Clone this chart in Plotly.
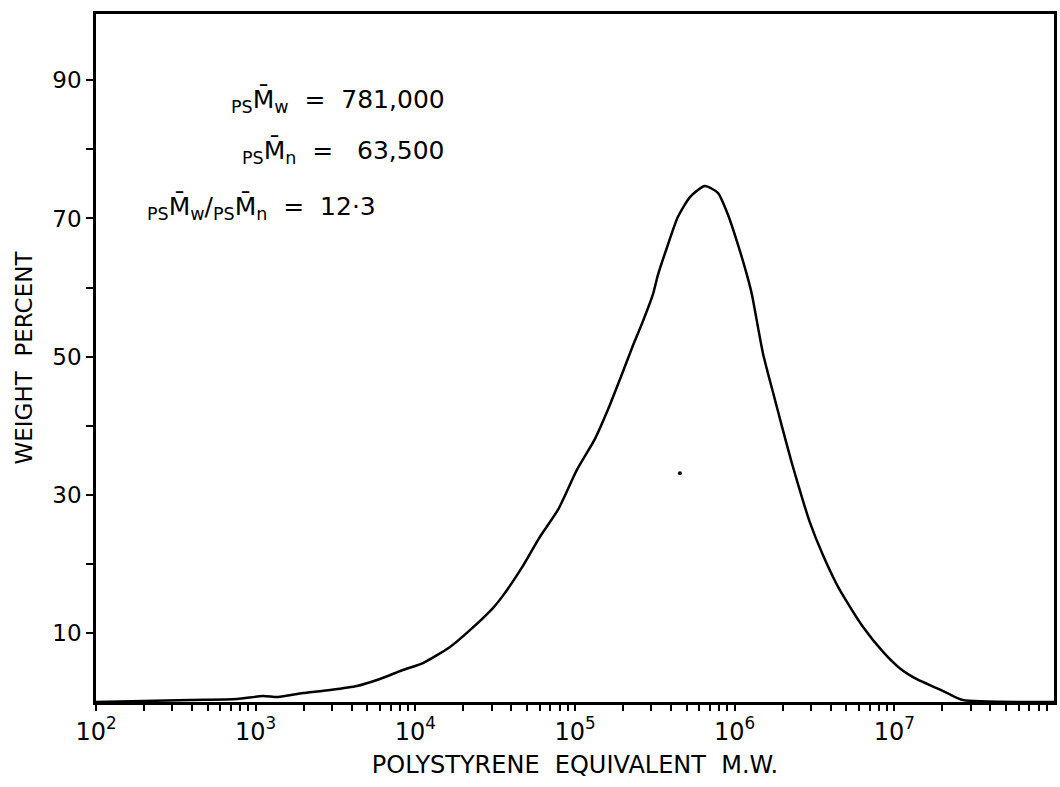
import plotly.graph_objects as go

# Molecular weight (polystyrene equivalent) and weight percent
mw = [100, 388, 764, 1112, 1380, 1977, 2917, 4305, 6000, 8356, 11170, 16480,
      21980, 30620, 35400, 47210, 60260, 78160, 102800, 133400, 160700,
      199500, 227000, 266100, 307600, 330400, 376700, 440600, 524800, 650100,
      785200, 905700, 1033000, 1191000, 1282000, 1503000, 1786000,
      1977000, 2280000, 2673000, 2958000, 3565000, 4365000, 5047000, 6353000,
      8472000, 10810000, 13840000, 18450000, 22280000, 26850000, 100000000]
wt = [0.0, 0.29, 0.43, 0.87, 0.72, 1.30, 1.74, 2.32, 3.33, 4.63, 5.64, 7.96,
      10.4, 13.6, 15.4, 19.7, 23.9, 27.8, 33.6, 38.1, 42.3,
      47.8, 51.2, 55.1, 59.0, 61.8, 65.8, 70.2, 73.1, 74.7,
      73.7, 70.6, 66.7, 61.9, 59.0, 50.5, 43.8,
      39.9, 34.6, 29.2, 26.0, 21.3, 17.0, 14.5, 10.9,
      7.3, 4.9, 3.3, 2.0, 1.1, 0.3, 0.0]

speck_mw = [454000]
speck_wt = [33.1]

x_major = [1e2, 1e3, 1e4, 1e5, 1e6, 1e7]
x_major_text = ["10<sup>2</sup>", "10<sup>3</sup>", "10<sup>4</sup>",
                "10<sup>5</sup>", "10<sup>6</sup>", "10<sup>7</sup>"]
y_ticks = [10, 20, 30, 40, 50, 60, 70, 80, 90]
y_ticktext = ["10", "", "30", "", "50", "", "70", "", "90"]

# build tick arrays (major + minor log ticks)
xtickvals, xticktext = [], []
for i, d in enumerate(x_major):
    for m in range(1, 10):
        xtickvals.append(d * m)
        xticktext.append(x_major_text[i] if m == 1 else "")

FONT = "DejaVu Sans"

fig = go.Figure()
fig.add_trace(go.Scatter(x=mw, y=wt, mode="lines",
                         line=dict(color="black", width=2.5, shape="spline", smoothing=0.6),
                         showlegend=False, hoverinfo="skip"))
fig.add_trace(go.Scatter(x=speck_mw, y=speck_wt, mode="markers",
                         marker=dict(color="black", size=4),
                         showlegend=False, hoverinfo="skip"))

fig.update_layout(
    width=1060, height=787,
    margin=dict(l=96, r=6, t=14, b=85),
    paper_bgcolor="white", plot_bgcolor="white",
    font=dict(family=FONT, color="black", size=22),
    xaxis=dict(type="log", range=[2, 8], tickmode="array",
               tickvals=xtickvals, ticktext=xticktext,
               ticks="outside", ticklen=6, tickwidth=2, tickcolor="black",
               showline=True, linecolor="black", linewidth=2.5, mirror=True,
               showgrid=False, zeroline=False, automargin=False,
               tickfont=dict(size=24, family=FONT),
               title=dict(text="POLYSTYRENE  EQUIVALENT  M.W.", standoff=12,
                          font=dict(size=24, family=FONT))),
    yaxis=dict(range=[0, 99.6], tickmode="array",
               tickvals=y_ticks, ticktext=y_ticktext,
               ticks="outside", ticklen=7, tickwidth=2, tickcolor="black",
               showline=True, linecolor="black", linewidth=2.5, mirror=True,
               showgrid=False, zeroline=False, automargin=False,
               tickfont=dict(size=23, family=FONT),
               title=dict(text="WEIGHT  PERCENT", standoff=14,
                          font=dict(size=23, family=FONT))),
)

ann_font = dict(size=25, family=FONT, color="black")
fig.add_annotation(xref="paper", yref="paper", x=(447 - 96) / 958, y=(702 - 100) / 688,
                   xanchor="right", yanchor="middle", showarrow=False,
                   text="<sub>PS</sub>M\u0304<sub>w</sub>  =  781,000", font=ann_font)
fig.add_annotation(xref="paper", yref="paper", x=(447 - 96) / 958, y=(702 - 151) / 688,
                   xanchor="right", yanchor="middle", showarrow=False,
                   text="<sub>PS</sub>M\u0304<sub>n</sub>  =   63,500", font=ann_font)
fig.add_annotation(xref="paper", yref="paper", x=(145 - 96) / 958, y=(702 - 208) / 688,
                   xanchor="left", yanchor="middle", showarrow=False,
                   text="<sub>PS</sub>M\u0304<sub>w</sub>/<sub>PS</sub>M\u0304<sub>n</sub>  =  12·3",
                   font=ann_font)

fig.write_html("out.html")
